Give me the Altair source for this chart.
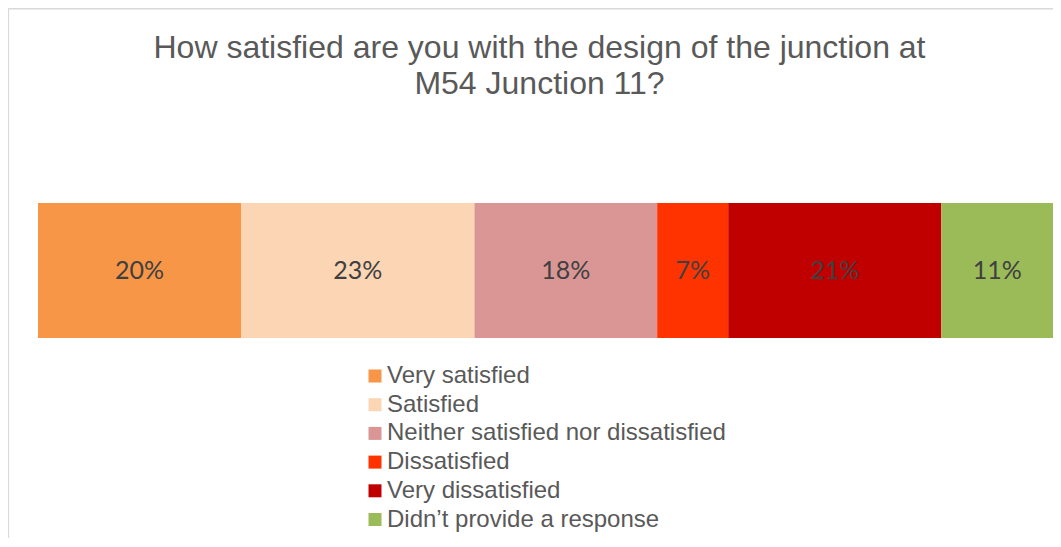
import altair as alt
import pandas as pd

categories = [
    "Very satisfied",
    "Satisfied",
    "Neither satisfied nor dissatisfied",
    "Dissatisfied",
    "Very dissatisfied",
    "Didn\u2019t provide a response",
]
values = [20, 23, 18, 7, 21, 11]
colors = ["#F79646", "#FCD5B5", "#D99694", "#FF3300", "#C00000", "#9BBB59"]
title_lines = ["How satisfied are you with the design of the junction at", "M54 Junction 11?"]
row_name = "M54 Junction 11"

df = pd.DataFrame({
    "response": categories,
    "pct": values,
    "order": list(range(len(categories))),
    "row": [row_name] * len(categories),
})

W, H = 1045, 530

x_scale = alt.Scale(domain=[0, 100], range=[30, 1045])
y_scale = alt.Scale(domain=[row_name], range=[195, 330], paddingInner=0, paddingOuter=0)

base = alt.Chart(df).transform_stack(
    stack="pct", groupby=["row"], as_=["start", "end"], sort=[alt.SortField("order")]
).transform_calculate(
    mid="(datum.start + datum.end) / 2",
    label="datum.pct + '%'",
)

bars = base.mark_bar().encode(
    x=alt.X("start:Q", scale=x_scale, axis=None),
    x2="end:Q",
    y=alt.Y("row:N", scale=y_scale, axis=None),
    color=alt.Color(
        "response:N",
        scale=alt.Scale(domain=categories, range=colors),
        legend=alt.Legend(
            orient="none",
            legendX=355,
            legendY=356,
            title=None,
            symbolType="square",
            symbolSize=169,
            symbolStrokeWidth=0,
            symbolOpacity=1,
            labelFontSize=24,
            labelFont="Liberation Sans",
            labelColor="#595959",
            labelOffset=0,
            labelLimit=600,
            rowPadding=4.7,
            padding=0,
        ),
    ),
)

labels = base.mark_text(font="Lato", fontSize=25, color="#404040", baseline="middle").encode(
    x=alt.X("mid:Q", scale=x_scale, axis=None),
    y=alt.Y("row:N", scale=y_scale, axis=None),
    text="label:N",
)

one = pd.DataFrame({"t": ["\n".join(title_lines)]})
title = alt.Chart(one).mark_text(
    font="Liberation Sans", fontSize=32, color="#595959", align="center",
    baseline="alphabetic", lineBreak="\n", lineHeight=36,
).encode(x=alt.value(531.5), y=alt.value(50), text="t:N")

frame_left = alt.Chart(one).mark_rule(color="#D9D9D9", strokeWidth=1.6).encode(
    x=alt.value(0.3), y=alt.value(0.6), y2=alt.value(H)
)
frame_top = alt.Chart(one).mark_rule(color="#D9D9D9", strokeWidth=1.6).encode(
    x=alt.value(0.3), x2=alt.value(W), y=alt.value(0.8)
)

chart = alt.layer(frame_left, frame_top, bars, labels, title).properties(
    width=W, height=H, autosize=alt.AutoSizeParams(type="none"), padding=0
).configure_view(stroke=None)

chart.save("out.html", embed_options={"renderer": "svg", "actions": False})
